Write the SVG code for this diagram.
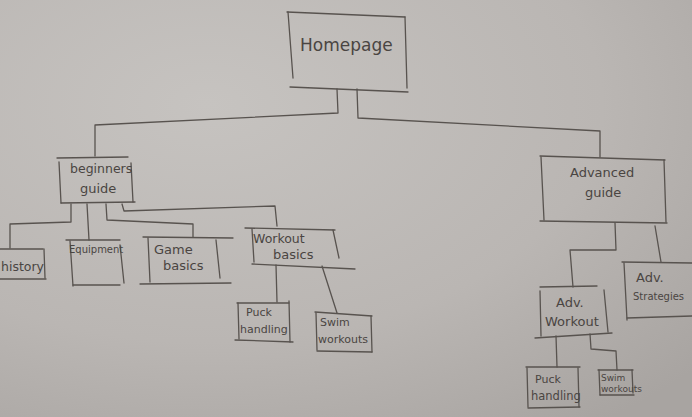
<svg xmlns="http://www.w3.org/2000/svg" width="692" height="417" viewBox="0 0 692 417">
  <defs>
    <radialGradient id="paper" cx="0.3" cy="0.25" r="0.95">
      <stop offset="0" stop-color="#c6c3c0"/>
      <stop offset="0.6" stop-color="#bab6b3"/>
      <stop offset="1" stop-color="#a8a4a1"/>
    </radialGradient>
  </defs>
  <style>
    .ln { fill: none; stroke: #58534f; stroke-width: 1.3; stroke-linecap: round; stroke-linejoin: round; }
    .t { font-family: "DejaVu Sans", sans-serif; fill: #4a4542; }
  </style>

  <!-- paper -->
  <rect width="692" height="417" fill="url(#paper)"/>

  <!-- connectors -->
  <g id="connectors" class="ln">
    <polyline points="337,89 338,113 95,125 95,156"/>
    <polyline points="357,89 358,118 600,131 600,157"/>
    <polyline points="71,204 71,222 10,224 10,248"/>
    <polyline points="87,204 89,240"/>
    <polyline points="106,204 107,220 193,224 193,237"/>
    <polyline points="122,204 124,211 275,206 277,226"/>
    <polyline points="276,265 277,302"/>
    <polyline points="322,266 337,313"/>
    <polyline points="615,223 616,250 570,250 573,287"/>
    <polyline points="655,226 661,262"/>
    <polyline points="556,336 557,367"/>
    <polyline points="590,334 591,349 616,351 617,370"/>
  </g>

  <!-- Homepage -->
  <g id="homepage">
    <polyline class="ln" points="287,12 405,17"/>
    <polyline class="ln" points="288,12 293,78"/>
    <polyline class="ln" points="405,17 407,88"/>
    <polyline class="ln" points="290,87 408,92"/>
    <text class="t" x="300" y="51" font-size="17">Homepage</text>
  </g>

  <!-- Beginners guide -->
  <g id="beginners-guide">
    <polyline class="ln" points="57,158 128,157"/>
    <polyline class="ln" points="59,162 61,203"/>
    <polyline class="ln" points="131,163 133,202"/>
    <polyline class="ln" points="61,203 135,202"/>
    <text class="t" x="70" y="173" font-size="12.5">beginners</text>
    <text class="t" x="80" y="193" font-size="13">guide</text>
  </g>

  <!-- history -->
  <g id="history">
    <polyline class="ln" points="0,249 43,249"/>
    <polyline class="ln" points="44,249 45,278"/>
    <polyline class="ln" points="0,279 46,279"/>
    <text class="t" x="1" y="271" font-size="12.5">history</text>
  </g>

  <!-- Equipment -->
  <g id="equipment">
    <polyline class="ln" points="66,240 120,240"/>
    <polyline class="ln" points="70,241 73,286"/>
    <polyline class="ln" points="120,245 124,283"/>
    <polyline class="ln" points="73,285 120,285"/>
    <text class="t" x="69" y="253" font-size="10">Equipment</text>
  </g>

  <!-- Game basics -->
  <g id="game-basics">
    <polyline class="ln" points="143,237 233,238"/>
    <polyline class="ln" points="148,238 150,282"/>
    <polyline class="ln" points="216,240 220,278"/>
    <polyline class="ln" points="140,284 231,283"/>
    <text class="t" x="154" y="254" font-size="13">Game</text>
    <text class="t" x="163" y="270" font-size="13">basics</text>
  </g>

  <!-- Workout basics -->
  <g id="workout-basics">
    <polyline class="ln" points="245,228 335,230"/>
    <polyline class="ln" points="252,229 254,262"/>
    <polyline class="ln" points="333,230 339,258"/>
    <polyline class="ln" points="252,264 355,269"/>
    <text class="t" x="253" y="243" font-size="12.5">Workout</text>
    <text class="t" x="273" y="259" font-size="13">basics</text>
  </g>

  <!-- Puck handling (beginner) -->
  <g id="puck-handling-1">
    <polyline class="ln" points="237,303 289,303"/>
    <polyline class="ln" points="238,303 239,339"/>
    <polyline class="ln" points="289,301 290,342"/>
    <polyline class="ln" points="235,340 293,342"/>
    <text class="t" x="246" y="316" font-size="11">Puck</text>
    <text class="t" x="240" y="333" font-size="11">handling</text>
  </g>

  <!-- Swim workouts (beginner) -->
  <g id="swim-workouts-1">
    <polyline class="ln" points="315,312 372,316"/>
    <polyline class="ln" points="316,313 317,350"/>
    <polyline class="ln" points="371,316 372,352"/>
    <polyline class="ln" points="317,351 372,352"/>
    <text class="t" x="320" y="326" font-size="11">Swim</text>
    <text class="t" x="318" y="343" font-size="11">workouts</text>
  </g>

  <!-- Advanced guide -->
  <g id="advanced-guide">
    <polyline class="ln" points="540,156 665,160"/>
    <polyline class="ln" points="541,157 544,220"/>
    <polyline class="ln" points="664,160 666,222"/>
    <polyline class="ln" points="540,221 667,223"/>
    <text class="t" x="570" y="177" font-size="13">Advanced</text>
    <text class="t" x="585" y="197" font-size="13">guide</text>
  </g>

  <!-- Adv. Strategies -->
  <g id="adv-strategies">
    <polyline class="ln" points="622,262 692,263"/>
    <polyline class="ln" points="624,263 627,320"/>
    <polyline class="ln" points="627,318 692,316"/>
    <text class="t" x="636" y="282" font-size="13">Adv.</text>
    <text class="t" x="633" y="300" font-size="10">Strategies</text>
  </g>

  <!-- Adv. Workout -->
  <g id="adv-workout">
    <polyline class="ln" points="540,287 597,286"/>
    <polyline class="ln" points="540,291 541,336"/>
    <polyline class="ln" points="604,290 608,332"/>
    <polyline class="ln" points="535,338 612,333"/>
    <text class="t" x="556" y="307" font-size="13">Adv.</text>
    <text class="t" x="545" y="326" font-size="13">Workout</text>
  </g>

  <!-- Puck handling (advanced) -->
  <g id="puck-handling-2">
    <polyline class="ln" points="526,367 580,367"/>
    <polyline class="ln" points="527,368 528,407"/>
    <polyline class="ln" points="578,368 579,407"/>
    <polyline class="ln" points="528,408 580,407"/>
    <text class="t" x="535" y="383" font-size="11">Puck</text>
    <text class="t" x="531" y="400" font-size="11.5">handling</text>
  </g>

  <!-- Swim workouts (advanced) -->
  <g id="swim-workouts-2">
    <polyline class="ln" points="598,370 633,370"/>
    <polyline class="ln" points="599,370 600,395"/>
    <polyline class="ln" points="632,370 633,393"/>
    <polyline class="ln" points="600,395 634,395"/>
    <text class="t" x="601" y="381" font-size="9">Swim</text>
    <text class="t" x="601" y="392" font-size="9">workouts</text>
  </g>
</svg>
